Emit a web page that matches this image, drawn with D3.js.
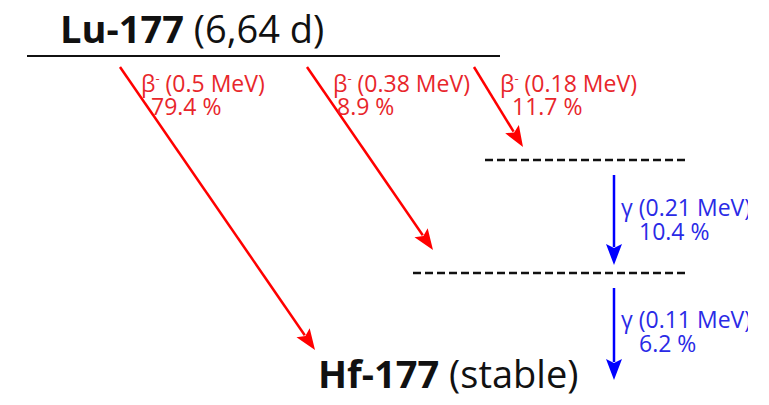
<!DOCTYPE html>
<html>
<head>
<meta charset="utf-8">
<script src="https://cdn.jsdelivr.net/npm/d3@7"></script>
<style>
  body { margin: 0; background: #fff; }
  text { font-family: "Open Sans", sans-serif; }
</style>
</head>
<body>
<svg id="scheme" width="769" height="405"></svg>
<script>
// decay data
const levelNames = ["Lu-177", "Hf-177*2", "Hf-177*1", "Hf-177"];
const levelEnergy = [0.498, 0.321, 0.113, 0];
const betaEnergy = [0.5, 0.38, 0.18];
const betaIntensity = [79.4, 8.9, 11.7];
const betaTarget = [3, 2, 1];
const gammaEnergy = [0.21, 0.11];
const gammaIntensity = [10.4, 6.2];
const gammaFrom = [1, 2];
const gammaTo = [2, 3];

// layout (not to scale)
const betaStartX = [120, 307, 474];
const betaEndX = [315, 433, 523];
const betaGap = [30, 23, 13];
const gammaX = 614;

const svg = d3.select("#scheme");

let y = d3.scaleLinear()
    .domain(levelEnergy)
    .range([56, 160, 273, 380]);

svg.append("defs").append("clipPath").attr("id", "clip")
    .append("rect").attr("width", 748).attr("height", 405);

const g = svg.append("g").attr("clip-path", "url(#clip)");

// parent level
g.append("line")
    .attr("x1", 27).attr("x2", 500)
    .attr("y1", y(levelEnergy[0])).attr("y2", y(levelEnergy[0]))
    .attr("stroke", "#111").attr("stroke-width", 2);

let title = g.append("text").attr("x", 60).attr("y", 43)
    .attr("font-size", 38).attr("fill", "#111");
title.append("tspan").attr("font-weight", "bold").text(levelNames[0]);
title.append("tspan").text(" (6,64 d)");

// excited levels
const dashX = [[485, 688], [413, 686]];
[1, 2].forEach((li, i) => {
    g.append("line")
        .attr("x1", dashX[i][0]).attr("x2", dashX[i][1])
        .attr("y1", y(levelEnergy[li])).attr("y2", y(levelEnergy[li]))
        .attr("stroke", "#111").attr("stroke-width", 2.5)
        .attr("stroke-dasharray", "8,4");
});

let hf = g.append("text").attr("x", 318).attr("y", 388)
    .attr("font-size", 38).attr("fill", "#111");
hf.append("tspan").attr("font-weight", "bold").text(levelNames[3]);
hf.append("tspan").text(" (stable)");

function arrow(x1, y1, x2, y2, color) {
    let dx = x2 - x1, dy = y2 - y1;
    let len = Math.sqrt(dx * dx + dy * dy);
    let ux = dx / len, uy = dy / len;
    let hl = 21, hw = 8;
    let bx = x2 - ux * hl, by = y2 - uy * hl;
    g.append("line")
        .attr("x1", x1).attr("y1", y1).attr("x2", bx + ux * 3).attr("y2", by + uy * 3)
        .attr("stroke", color).attr("stroke-width", 2.5);
    g.append("path")
        .attr("d", `M${x2},${y2}L${bx - uy * hw},${by + ux * hw}L${bx + ux * 4},${by + uy * 4}L${bx + uy * hw},${by - ux * hw}Z`)
        .attr("fill", color);
}

// beta branches
betaEnergy.forEach((e, i) => {
    let ty = betaTarget[i];
    arrow(betaStartX[i], y(levelEnergy[0]) + 11, betaEndX[i], y(levelEnergy[ty]) - betaGap[i], "#ff0000");
});

const fs = 23;
const betaLabelX = [141, 333, 500];
const betaPctX = [151, 337, 512];
betaEnergy.forEach((e, i) => {
    let t = g.append("text").attr("x", betaLabelX[i]).attr("y", 92)
        .attr("font-size", fs).attr("fill", "#e8262b");
    t.append("tspan").text("β");
    t.append("tspan").attr("font-size", 13).attr("dy", -9).text("-");
    t.append("tspan").attr("dy", 9).text(` (${e} MeV)`);
    g.append("text").attr("x", betaPctX[i]).attr("y", 115)
        .attr("font-size", fs).attr("fill", "#e8262b")
        .text(`${betaIntensity[i]} %`);
});

// gamma transitions
gammaEnergy.forEach((e, i) => {
    let y1 = y(levelEnergy[gammaFrom[i]]) + 15;
    let y2 = y(levelEnergy[gammaTo[i]]) - 8;
    if (gammaTo[i] === 3) y2 = y(levelEnergy[3]);
    arrow(gammaX, y1, gammaX, y2, "#0000ff");
    let ly = y1 + 41 - i * 1;
    g.append("text").attr("x", 621).attr("y", ly)
        .attr("font-size", fs).attr("fill", "#2a2ae6")
        .text(`γ (${e} MeV)`);
    g.append("text").attr("x", 639).attr("y", ly + 24)
        .attr("font-size", fs).attr("fill", "#2a2ae6")
        .text(`${gammaIntensity[i]} %`);
});
</script>
</body>
</html>
